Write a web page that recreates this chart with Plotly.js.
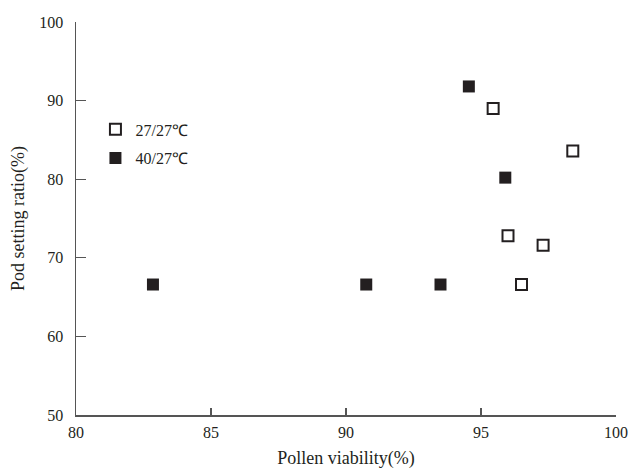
<!DOCTYPE html>
<html>
<head>
<meta charset="utf-8">
<script src="https://cdn.plot.ly/plotly-3.0.1.min.js"></script>
<style>html,body{margin:0;padding:0;background:#fff;}#chart{width:630px;height:469px;}</style>
</head>
<body>
<div id="chart"></div>
<script>
// Data
const seriesNames = ["27/27℃", "40/27℃"];
const viability27 = [95.45, 98.4, 96.0, 97.3, 96.5];
const podRatio27 = [89.0, 83.6, 72.8, 71.6, 66.6];
const viability40 = [82.85, 90.75, 93.5, 94.55, 95.9];
const podRatio40 = [66.6, 66.6, 66.6, 91.8, 80.2];
const xTicks = [80, 85, 90, 95, 100];
const yTicks = [50, 60, 70, 80, 90, 100];

const serif = "Liberation Serif, Times New Roman, serif";

const traces = [
  {
    x: viability27, y: podRatio27, name: seriesNames[0], type: "scatter", mode: "markers",
    legendgroup: "a",
    marker: {symbol: "square-open", size: 11, color: "#231f20", line: {width: 2, color: "#231f20"}}
  },
  {
    x: viability40, y: podRatio40, name: seriesNames[1], type: "scatter", mode: "markers",
    legendgroup: "b",
    marker: {symbol: "square", size: 12, color: "#231f20", line: {width: 0}}
  }
];

const layout = {
  width: 630, height: 469,
  margin: {l: 76, r: 14, t: 22, b: 54},
  paper_bgcolor: "#fff", plot_bgcolor: "#fff",
  font: {family: serif, size: 16, color: "#231f20"},
  showlegend: true,
  legend: {x: 0.036, y: 0.77, xanchor: "left", yanchor: "top", bgcolor: "rgba(0,0,0,0)",
           font: {family: serif, size: 16, color: "#231f20"}, tracegroupgap: 5},
  xaxis: {
    range: [80, 100], tickvals: xTicks, ticktext: xTicks.map(String),
    ticks: "inside", ticklen: 7, tickwidth: 1.2, tickcolor: "#555",
    ticklabelstandoff: 2,
    showline: true, linecolor: "#555", linewidth: 1.5, showgrid: false, zeroline: false,
    title: {text: "Pollen viability(%)", font: {family: serif, size: 18}, standoff: 14}
  },
  yaxis: {
    range: [50, 100], tickvals: yTicks, ticktext: yTicks.map(String),
    ticks: "inside", ticklen: 10, tickwidth: 1.2, tickcolor: "#555",
    ticklabelstandoff: 8,
    showline: true, linecolor: "#555", linewidth: 1.5, showgrid: false, zeroline: false,
    title: {text: "Pod setting ratio(%)", font: {family: serif, size: 18}, standoff: 10}
  }
};

Plotly.newPlot("chart", traces, layout, {displayModeBar: false, staticPlot: true});
</script>
</body>
</html>
